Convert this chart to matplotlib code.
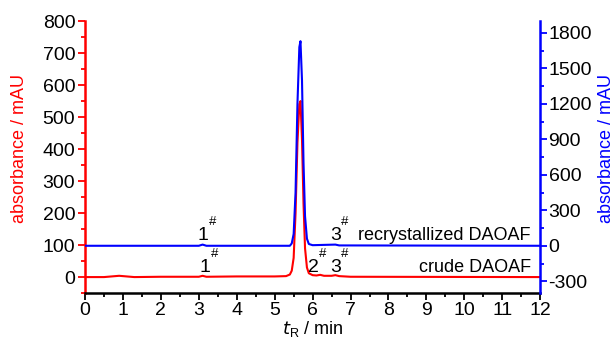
import matplotlib
matplotlib.use("Agg")
import matplotlib.pyplot as plt
from matplotlib.ticker import MultipleLocator

# crude DAOAF trace (left axis, mAU)
crude_t = [0, 0.5, 0.8, 0.9, 1.0, 1.3, 2.0, 3.0, 3.1, 3.2, 4.0, 5.0, 5.3, 5.4, 5.45,
           5.5, 5.55, 5.6, 5.65, 5.68, 5.72, 5.76, 5.8, 5.85, 5.9, 6.0, 6.1, 6.2, 6.3,
           6.5, 6.6, 6.7, 7.0, 12]
crude_abs = [0, 0, 3, 4, 3, 0, 1, 1, 4, 1, 2, 2, 3, 8, 20,
             60, 200, 420, 540, 550, 430, 230, 90, 30, 12, 6, 5, 7, 4,
             4, 6, 3, 1, 0]

# recrystallized DAOAF trace (right axis, mAU)
recr_t = [0, 3.0, 3.1, 3.2, 5.4, 5.45, 5.5, 5.55, 5.6, 5.65, 5.68, 5.72, 5.76, 5.8,
          5.85, 5.9, 6.0, 6.6, 6.7, 12]
recr_abs = [0, 0, 10, 0, 0, 20, 100, 450, 1200, 1680, 1730, 1400, 700, 250,
            60, 15, 5, 10, 3, 0]

x_ticks = list(range(0, 13))
left_ticks = list(range(0, 801, 100))
right_ticks = list(range(-300, 1801, 300))

# impurity markers: label, time, left-axis baseline
peak_labels = ['1', '3', '1', '2', '3']
peak_t = [3.12, 6.6, 3.17, 6.01, 6.6]
peak_base = [100, 100, 0, 0, 0]

plt.rcParams['font.family'] = ['Liberation Sans', 'DejaVu Sans']
plt.rcParams['axes.unicode_minus'] = False

fig = plt.figure(figsize=(6.16, 3.4), dpi=100)
ax = fig.add_axes([0.138, 0.138, 0.739, 0.8])
ax2 = ax.twinx()

red = '#ff0000'
blue = '#0000ff'

ax.plot(crude_t, crude_abs, color=red, lw=1.5, zorder=3)
ax2.plot(recr_t, recr_abs, color=blue, lw=1.5, zorder=2)

ax.set_xlim(0, 12)
ax.set_ylim(-50, 800)
ax2.set_ylim(-400, 1900)

ax.set_xticks(x_ticks)
ax.xaxis.set_minor_locator(MultipleLocator(0.5))
ax.set_yticks(left_ticks)
ax.yaxis.set_minor_locator(MultipleLocator(50))
ax2.set_yticks(right_ticks)
ax2.yaxis.set_minor_locator(MultipleLocator(150))

fs = 14
ax.tick_params(axis='x', which='major', direction='out', length=5, width=1.3, labelsize=fs, colors='black', pad=1.5)
ax.tick_params(axis='x', which='minor', direction='out', length=3, width=1.3)
ax.tick_params(axis='y', which='major', direction='out', length=5, width=1.3, labelsize=fs, color=red, labelcolor='black', pad=2)
ax.tick_params(axis='y', which='minor', direction='out', length=3, width=1.3, color=red)
ax2.tick_params(axis='y', which='major', direction='out', length=5, width=1.3, labelsize=fs, color=blue, labelcolor='black', pad=1)
ax2.tick_params(axis='y', which='minor', direction='out', length=3, width=1.3, color=blue)

for a in (ax, ax2):
    a.spines['top'].set_visible(False)
ax.spines['left'].set_color(red)
ax.spines['left'].set_linewidth(1.8)
ax.spines['bottom'].set_color('black')
ax.spines['bottom'].set_linewidth(1.8)
ax.spines['right'].set_visible(False)
ax2.spines['left'].set_visible(False)
ax2.spines['bottom'].set_visible(False)
ax2.spines['right'].set_color(blue)
ax2.spines['right'].set_linewidth(1.8)

ax.set_ylabel('absorbance / mAU', color=red, fontsize=13)
ax.yaxis.set_label_coords(-0.125, 0.53)
ax2.set_ylabel('absorbance / mAU', color=blue, fontsize=13)
ax2.yaxis.set_label_coords(1.127, 0.53)
ax.set_xlabel(r'$\mathit{t}_\mathregular{R}$ / min', fontsize=13, labelpad=0)

tfs = 14
for lab, t, base in zip(peak_labels, peak_t, peak_base):
    ax.annotate(lab, xy=(t, base), xytext=(0, 3.8), textcoords='offset points',
                fontsize=tfs, ha='center', va='baseline')
    ax.annotate('#', xy=(t, base), xytext=(4.0, 14.5), textcoords='offset points',
                fontsize=9.5, ha='left', va='baseline')
ax.annotate('recrystallized DAOAF', xy=(11.75, 100), xytext=(0, 4), textcoords='offset points',
            fontsize=13, ha='right', va='baseline')
ax.annotate('crude DAOAF', xy=(11.75, 0), xytext=(0, 4), textcoords='offset points',
            fontsize=13, ha='right', va='baseline')

fig.savefig('out.png', dpi=100)
